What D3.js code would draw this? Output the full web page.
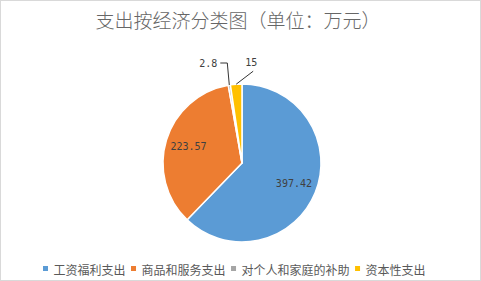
<!DOCTYPE html>
<html>
<head>
<meta charset="utf-8">
<script src="https://cdn.jsdelivr.net/npm/d3@7"></script>
<style>
    body { margin: 0; background: #fff; }
    svg { display: block; }
</style>
</head>
<body>
<script>
//chart data
var categories = ["工资福利支出", "商品和服务支出", "对个人和家庭的补助", "资本性支出"];
var values = [397.42, 223.57, 2.8, 15];
var labels = ["397.42", "223.57", "2.8", "15"];
var colors = ["#5B9BD5", "#ED7D31", "#A5A5A5", "#FFC000"];
var title = "支出按经济分类图（单位：万元）";

window.onload = drawChart();

function drawChart() {
    var width = 481,
        height = 281;

    var svg = d3.select("body")
        .append("svg")
        .attr("width", width)
        .attr("height", height);

    //chart frame
    svg.append("rect")
        .attr("x", 0.5)
        .attr("y", 0.5)
        .attr("width", width - 1)
        .attr("height", height - 1)
        .attr("fill", "#fff")
        .attr("stroke", "#d9d9d9");

    //title
    svg.append("text")
        .attr("x", 238)
        .attr("y", 28)
        .attr("text-anchor", "middle")
        .attr("font-family", "'Noto Sans CJK SC', sans-serif")
        .attr("font-weight", 300)
        .attr("font-size", 19)
        .attr("fill", "#666")
        .text(title);

    var cx = 242, cy = 163, r = 79;

    var pie = d3.pie().sort(null).value(function(d) { return d; });
    var arcs = pie(values);
    var arc = d3.arc().innerRadius(0).outerRadius(r);
    var labelArc = d3.arc().innerRadius(56).outerRadius(56);

    var g = svg.append("g").attr("transform", "translate(" + cx + "," + cy + ")");

    g.selectAll(".slice")
        .data(arcs)
        .enter()
        .append("path")
        .attr("class", "slice")
        .attr("d", arc)
        .attr("fill", function(d, i) { return colors[i]; })
        .attr("stroke", "#fff")
        .attr("stroke-width", 1.5)
        .attr("stroke-linejoin", "round");

    var labelFont = "'DejaVu Sans Mono', monospace";

    //point on the pie edge at the middle of a slice
    function edgePoint(d, rad) {
        var a = (d.startAngle + d.endAngle) / 2;
        return [Math.sin(a) * rad, -Math.cos(a) * rad];
    }

    arcs.forEach(function(d, i) {
        var share = (d.endAngle - d.startAngle) / (2 * Math.PI);
        if (share > 0.1) {
            //inside labels
            var c = labelArc.centroid(d);
            g.append("text")
                .attr("x", c[0])
                .attr("y", c[1] + 3.5)
                .attr("text-anchor", "middle")
                .attr("font-family", labelFont)
                .attr("font-size", 10)
                .attr("fill", "#404040")
                .text(labels[i]);
        } else {
            var p = edgePoint(d, r);
            var pts, tx, ty, anchor;
            if (i === 2) {
                //elbow leader going up then left
                var elbow = [p[0] - 2, -r - 21];
                pts = [p, elbow, [elbow[0] - 7, elbow[1]]];
                tx = elbow[0] - 10;
                ty = elbow[1] + 3.5;
                anchor = "end";
            } else {
                var end = [p[0] + 17, p[1] - 13];
                pts = [p, end];
                tx = end[0] - 2;
                ty = end[1] - 5;
                anchor = "middle";
            }
            g.append("path")
                .attr("d", d3.line()(pts))
                .attr("fill", "none")
                .attr("stroke", "#000")
                .attr("stroke-width", 0.8);
            g.append("text")
                .attr("x", tx)
                .attr("y", ty)
                .attr("text-anchor", anchor)
                .attr("font-family", labelFont)
                .attr("font-size", 10)
                .attr("fill", "#404040")
                .text(labels[i]);
        }
    });

    //legend
    var legend = svg.append("g").attr("class", "legend");
    var lx = 43, ly = 266;
    categories.forEach(function(name, i) {
        legend.append("rect")
            .attr("x", lx)
            .attr("y", ly)
            .attr("width", 5)
            .attr("height", 5)
            .attr("fill", colors[i]);
        var t = legend.append("text")
            .attr("x", lx + 10.5)
            .attr("y", ly + 9)
            .attr("font-family", "'Noto Sans CJK SC', sans-serif")
            .attr("font-size", 12)
            .attr("fill", "#595959")
            .text(name);
        lx += 10.5 + t.node().getComputedTextLength() + 5.5;
    });
};
</script>
</body>
</html>
